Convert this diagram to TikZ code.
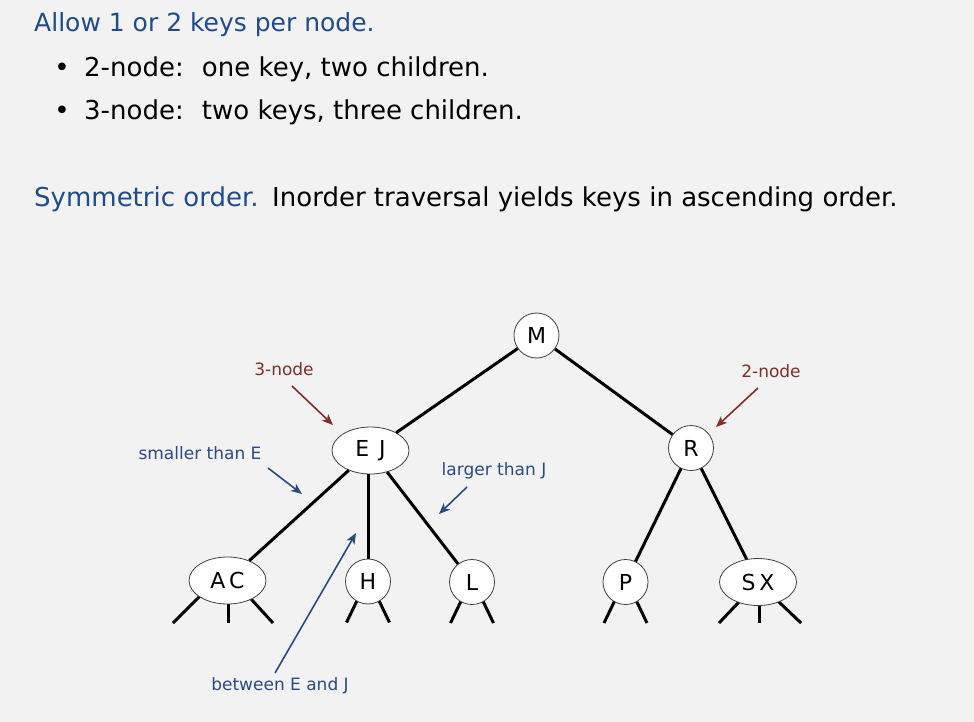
\documentclass[tikz,border=0pt]{standalone}
\usepackage{fontspec}
\setmainfont{DejaVu Sans}
\usetikzlibrary{arrows.meta,shapes.geometric}
\definecolor{bg}{HTML}{F2F2F2}
\definecolor{ttblue}{HTML}{1F4B8C}
\definecolor{lblue}{HTML}{2C4A80}
\definecolor{lred}{HTML}{7D2F2B}
\begin{document}
\begin{tikzpicture}[x=1pt,y=-1pt,
  big/.style={font=\fontsize{25}{25}\selectfont, inner sep=0pt},
  body/.style={font=\fontsize{26}{26}\selectfont, inner sep=0pt},
  two/.style={circle,draw=black!75,line width=0.8pt,fill=white,minimum size=45pt,inner sep=0pt,font=\fontsize{22}{22}\selectfont},
  three/.style={ellipse,draw=black!75,line width=0.8pt,fill=white,minimum width=77pt,minimum height=47pt,inner sep=0pt,font=\fontsize{22}{22}\selectfont},
  link/.style={line width=3pt},
  stub/.style={line width=3pt},
  note/.style={font=\fontsize{17}{17}\selectfont, inner sep=0pt},
  parrow/.style={-{Stealth[length=11pt,width=9pt,inset=3pt]}, line width=1.6pt}
]
\fill[bg] (0,0) rectangle (974,722);
\useasboundingbox (0,0) rectangle (974,722);

% text
\node[big, anchor=base west, text=ttblue] (t1) at (34,32) {Allow 1 or 2 keys per node.};
\node[body, anchor=base] (u1) at (62,77) {\textbullet};
\node[body, anchor=base west] (b1) at (84,77) {2-node:\hspace{0.7em}one key, two children.};
\node[body, anchor=base] (u2) at (62,120) {\textbullet};
\node[body, anchor=base west] (b2) at (84,120) {3-node:\hspace{0.7em}two keys, three children.};
\node[body, anchor=base west, text=ttblue] (s1) at (34,207) {Symmetric order.};
\node[body, anchor=base west] (s2) at (272,207) {Inorder traversal yields keys in ascending order.};

% node positions
\coordinate (pM) at (536.5,335.5);
\coordinate (pEJ) at (370.5,450.5);
\coordinate (pR) at (691,448);
\coordinate (pAC) at (227.5,580.5);
\coordinate (pH) at (368,581.5);
\coordinate (pL) at (472,582);
\coordinate (pP) at (625.5,582);
\coordinate (pSX) at (758,582);

% stubs (drawn first; nodes cover the inner ends)
\draw[stub] ([shift={(-20,8)}]pAC) -- ([shift={(-54.5,42.5)}]pAC);
\draw[stub] ([shift={(0.5,10)}]pAC) -- ([shift={(0.5,42.5)}]pAC);
\draw[stub] ([shift={(14,8)}]pAC) -- ([shift={(45.5,42.5)}]pAC);
\foreach \p in {pH,pL,pP}{
  \draw[stub] ([shift={(-9,15)}]\p) -- ([shift={(-21.5,41)}]\p);
  \draw[stub] ([shift={(9,15)}]\p) -- ([shift={(21.5,41)}]\p);
}
\draw[stub] ([shift={(-10.5,11)}]pSX) -- ([shift={(-39,41)}]pSX);
\draw[stub] ([shift={(1,10)}]pSX) -- ([shift={(1,41)}]pSX);
\draw[stub] ([shift={(10,9.5)}]pSX) -- ([shift={(43,41)}]pSX);

% nodes
\node[two] (M) at (pM) {M};
\node[three] (EJ) at (pEJ) {E\hspace{0.45em}J};
\node[two] (R) at (pR) {R};
\node[three] (AC) at (pAC) {A\,C};
\node[two] (H) at (pH) {H};
\node[two] (L) at (pL) {L};
\node[two] (P) at (pP) {P};
\node[three] (SX) at (pSX) {S\,X};

% links
\draw[link] (M) -- (EJ);
\draw[link] (M) -- (R);
\draw[link] (EJ) -- (AC);
\draw[link] (EJ.south -| H) -- (H);
\draw[link] (EJ) -- (L);
\draw[link] (R) -- (P);
\draw[link] (R) -- (SX);

% annotations
\node[note, text=lred] (n3) at (284,369) {3-node};
\coordinate (n3s) at (292,386); \coordinate (n3e) at (333,425);
\draw[parrow, lred] (n3s) -- (n3e);
\node[note, text=lred] (n2) at (771,371) {2-node};
\coordinate (n2s) at (758,388); \coordinate (n2e) at (716,427);
\draw[parrow, lred] (n2s) -- (n2e);
\node[note, text=lblue] (sm) at (200,453) {smaller than E};
\coordinate (sms) at (268,468); \coordinate (sme) at (302,494);
\draw[parrow, lblue] (sms) -- (sme);
\node[note, text=lblue] (lg) at (494,471) {larger than J};
\coordinate (lgs) at (467,487); \coordinate (lge) at (439,514);
\draw[parrow, lblue] (lgs) -- (lge);
\node[note, text=lblue] (bt) at (280,686) {between E and J};
\coordinate (bts) at (275,673); \coordinate (bte) at (356,533);
\draw[parrow, lblue] (bts) -- (bte);
\end{tikzpicture}
\end{document}
